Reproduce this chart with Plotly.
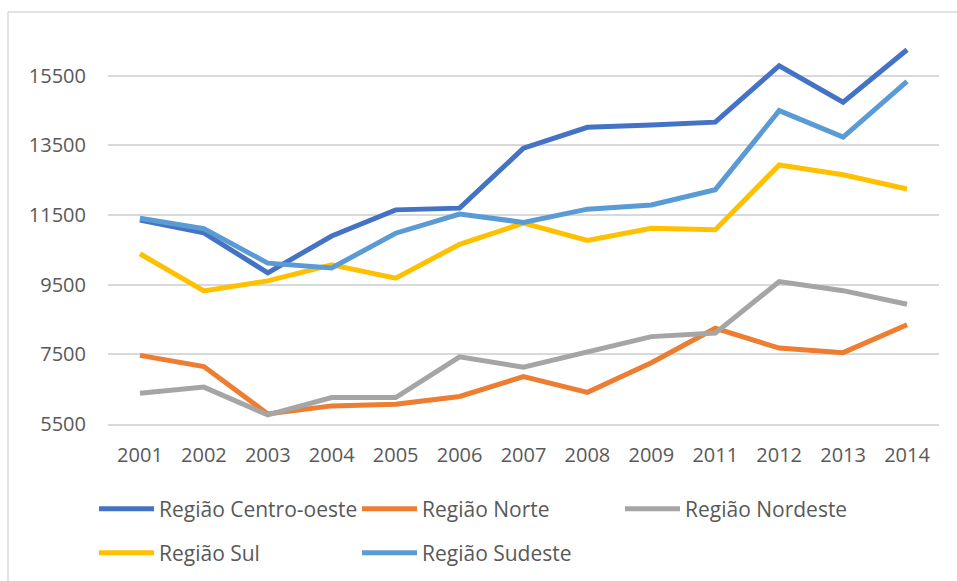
import plotly.graph_objects as go

years = ["2001", "2002", "2003", "2004", "2005", "2006", "2007", "2008", "2009", "2011", "2012", "2013", "2014"]

centro_oeste = [11360, 10990, 9840, 10900, 11650, 11700, 13420, 14020, 14090, 14170, 15790, 14740, 16250]
norte = [7470, 7150, 5790, 6020, 6070, 6290, 6860, 6410, 7260, 8250, 7680, 7550, 8350]
nordeste = [6380, 6560, 5760, 6260, 6260, 7430, 7130, 7580, 8010, 8110, 9590, 9330, 8940]
sul = [10390, 9320, 9610, 10070, 9690, 10660, 11270, 10770, 11120, 11080, 12940, 12660, 12250]
sudeste = [11410, 11110, 10120, 9980, 10980, 11530, 11290, 11670, 11790, 12230, 14500, 13740, 15340]

y_ticks = [5500, 7500, 9500, 11500, 13500, 15500]

series = [
    ("Região Centro-oeste", centro_oeste, "#4472C4", "legend"),
    ("Região Norte", norte, "#ED7D31", "legend"),
    ("Região Nordeste", nordeste, "#A5A5A5", "legend"),
    ("Região Sul", sul, "#FFC000", "legend2"),
    ("Região Sudeste", sudeste, "#5B9BD5", "legend2"),
]

fig = go.Figure()
for name, vals, color, lg in series:
    fig.add_trace(go.Scatter(
        x=years, y=vals, name=name, mode="lines",
        line=dict(color=color, width=5),
        legend=lg,
    ))

font_family = "Open Sans, Noto Sans, sans-serif"
leg_common = dict(
    orientation="h", xref="container", yref="container",
    xanchor="left", yanchor="middle",
    font=dict(family=font_family, size=21, color="#595959"),
    itemwidth=55, entrywidth=193, bgcolor="rgba(0,0,0,0)",
    traceorder="normal",
)

fig.update_layout(
    width=957, height=581,
    margin=dict(l=108, r=18, t=41, b=157, autoexpand=False),
    paper_bgcolor="white", plot_bgcolor="white",
    showlegend=True,
    legend=dict(x=94 / 957, y=1 - 509 / 581, **leg_common),
    legend2=dict(x=94 / 957, y=1 - 553 / 581, **leg_common),
    xaxis=dict(
        type="category", range=[-0.5, len(years) - 0.5],
        showgrid=False, showline=True, linecolor="#d9d9d9", linewidth=1.5,
        ticks="", tickfont=dict(family=font_family, size=20, color="#595959"),
        ticklabelstandoff=12, zeroline=False,
    ),
    yaxis=dict(
        range=[5500, 16500], tickmode="array", tickvals=y_ticks,
        ticktext=[str(v) for v in y_ticks],
        showgrid=True, gridcolor="#d9d9d9", gridwidth=1.5, zeroline=False,
        showline=False, ticks="",
        tickfont=dict(family=font_family, size=20, color="#595959"),
        ticklabelstandoff=21,
    ),
    shapes=[
        dict(type="line", xref="paper", yref="paper",
             x0=(8 - 108) / 831, x1=(970 - 108) / 831,
             y0=(424 - 12) / 383, y1=(424 - 12) / 383,
             line=dict(color="#d9d9d9", width=1.5)),
        dict(type="line", xref="paper", yref="paper",
             x0=(8 - 108) / 831, x1=(8 - 108) / 831,
             y0=(424 - 12) / 383, y1=(424 - 600) / 383,
             line=dict(color="#d9d9d9", width=1.5)),
    ],
)

fig.write_html("out.html", config={"displayModeBar": False},
               post_script="document.body.style.margin='0';")
